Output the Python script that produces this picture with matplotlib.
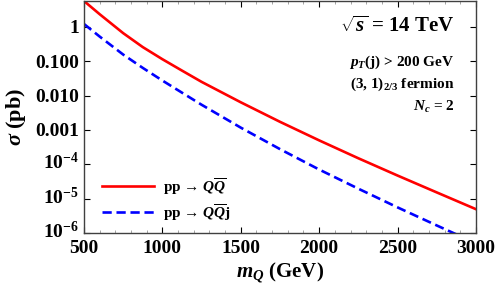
import numpy as np
import matplotlib
matplotlib.use("Agg")
import matplotlib.pyplot as plt
from matplotlib.ticker import FixedLocator, MultipleLocator, NullFormatter
from matplotlib.transforms import ScaledTranslation

plt.rcParams['font.family'] = ['Liberation Serif', 'DejaVu Serif']
plt.rcParams['font.weight'] = 'bold'
plt.rcParams['mathtext.fontset'] = 'custom'
plt.rcParams['mathtext.rm'] = 'Liberation Serif:bold'
plt.rcParams['mathtext.it'] = 'Liberation Serif:italic:bold'
plt.rcParams['mathtext.bf'] = 'Liberation Serif:bold'

# cross sections (pb)
m_qq = [500, 600, 750, 875, 1000, 1125, 1250, 1500, 1750, 2000, 2250, 2500, 2750, 3000]
sig_qq = [5.7, 2.35, 0.66, 0.259, 0.115, 0.0536, 0.0252, 6.4e-3, 1.73e-3, 4.98e-4, 1.50e-4, 4.71e-5, 1.52e-5, 4.94e-6]

m_qqj = [500, 600, 750, 875, 1000, 1125, 1250, 1500, 1750, 2000, 2250, 2500, 2750, 2900]
sig_qqj = [1.22, 0.525, 0.157, 0.0642, 0.0275, 0.0122, 5.43e-3, 1.17e-3, 2.77e-4, 7.05e-5, 1.95e-5, 5.57e-6, 1.66e-6, 8.1e-7]

yticks = [1, 0.1, 0.01, 0.001, 1e-4, 1e-5, 1e-6]
ylabels = ['1', '0.100', '0.010', '0.001', r'$10^{-4}$', r'$10^{-5}$', r'$10^{-6}$']

fig = plt.figure(figsize=(4.98, 2.93), dpi=100)
ax = fig.add_axes([0.1687, 0.2048, 0.787, 0.792])

ax.plot(m_qq, sig_qq, color='red', lw=1.9, label=r'pp → $Q\overline{Q}$')
ax.plot(m_qqj, sig_qqj, color='blue', lw=1.9, ls=(0, (3.5, 1.8)), label=r'pp → $Q\overline{Q}$j')

ax.set_yscale('log')
ax.set_xlim(500, 3000)
ax.set_ylim(1e-6, 5.73)
ax.yaxis.set_major_locator(FixedLocator(yticks))
ax.set_yticklabels(ylabels)
ax.yaxis.set_minor_formatter(NullFormatter())
ax.xaxis.set_major_locator(MultipleLocator(500))
ax.xaxis.set_minor_locator(MultipleLocator(100))
ax.tick_params(which='both', direction='in', top=True, right=True, labelsize=14)
ax.tick_params(which='major', length=4, width=0.8)
ax.tick_params(which='minor', length=2, width=0.5, colors='0.5', labelcolor='black')
ax.tick_params(axis='x', pad=5)
for s in ax.spines.values():
    s.set_linewidth(1.0)
    s.set_color('0.25')

# keep the "10" of the power labels centred on the tick
shift = ScaledTranslation(0, 2.5 / 72, fig.dpi_scale_trans)
for lab in ax.get_yticklabels()[4:]:
    lab.set_transform(lab.get_transform() + shift)

ax.set_xlabel(r'$m_Q$ (GeV)', fontsize=15, fontweight='bold', labelpad=3)
ax.set_ylabel(r'$\sigma$ (pb)', fontsize=16, fontweight='bold', labelpad=5)

ax.text(0.946, 0.888, r'$\sqrt{s}$ = 14 TeV', transform=ax.transAxes, ha='right', va='center', fontsize=15)
ax.text(0.946, 0.737, r'$p_T$(j) > 200 GeV', transform=ax.transAxes, ha='right', va='center', fontsize=11)
ax.text(0.946, 0.642, r'(3, 1)$_{2/3}$ fermion', transform=ax.transAxes, ha='right', va='center', fontsize=11)
ax.text(0.946, 0.543, r'$N_c$ = 2', transform=ax.transAxes, ha='right', va='center', fontsize=11)

ax.legend(loc='lower left', frameon=False, fontsize=11, handlelength=3.4, handletextpad=0.6,
          labelspacing=0.35, bbox_to_anchor=(0.01, -0.015))

fig.savefig('out.png', dpi=100)
